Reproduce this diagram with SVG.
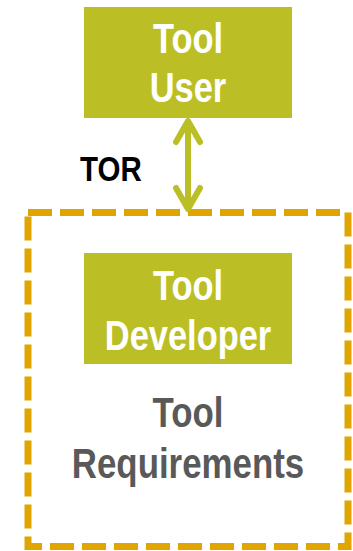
<svg xmlns="http://www.w3.org/2000/svg" width="353" height="551" viewBox="0 0 353 551">
  <style>
    .box { fill: #BBBF25; }
    .lbl { font-family: "Liberation Sans", Arial, sans-serif; font-weight: bold; font-size: 42px; text-anchor: middle; }
    .white { fill: #FFFFFF; }
    .gray { fill: #595959; }
    .dark { fill: #000000; font-size: 36px; }
    .frame { fill: none; stroke: #E0A500; stroke-width: 7; stroke-dasharray: 24 8; }
    .link { fill: none; stroke: #BBBF25; stroke-width: 6; stroke-linecap: round; stroke-linejoin: round; }
  </style>

  <!-- dashed scope frame around the developer side -->
  <g id="requirements">
    <rect class="frame" x="28" y="212.5" width="320" height="334"/>
    <g class="lbl gray">
      <text transform="translate(188,427) scale(0.83,1)">Tool</text>
      <text transform="translate(188,478) scale(0.83,1)">Requirements</text>
    </g>
  </g>

  <g id="tool-user">
    <rect class="box" x="84" y="7" width="208" height="111"/>
    <g class="lbl white">
      <text transform="translate(188,53) scale(0.82,1)">Tool</text>
      <text transform="translate(188,102) scale(0.82,1)">User</text>
    </g>
  </g>

  <g id="tool-developer">
    <rect class="box" x="84" y="253" width="208" height="111"/>
    <g class="lbl white">
      <text transform="translate(188,300) scale(0.82,1)">Tool</text>
      <text transform="translate(188,350) scale(0.82,1)">Developer</text>
    </g>
  </g>

  <!-- bidirectional TOR link -->
  <g id="connectors">
    <line class="link" x1="188" y1="122" x2="188" y2="208"/>
    <polyline class="link" points="176,142 188,121 200,142"/>
    <polyline class="link" points="176,188 188,209 200,188"/>
    <polygon fill="#BBBF25" points="183,128 188,119 193,128"/>
    <polygon fill="#BBBF25" points="183,202 188,211 193,202"/>
    <text class="lbl dark" transform="translate(111,181) scale(0.82,1)">TOR</text>
  </g>
</svg>
